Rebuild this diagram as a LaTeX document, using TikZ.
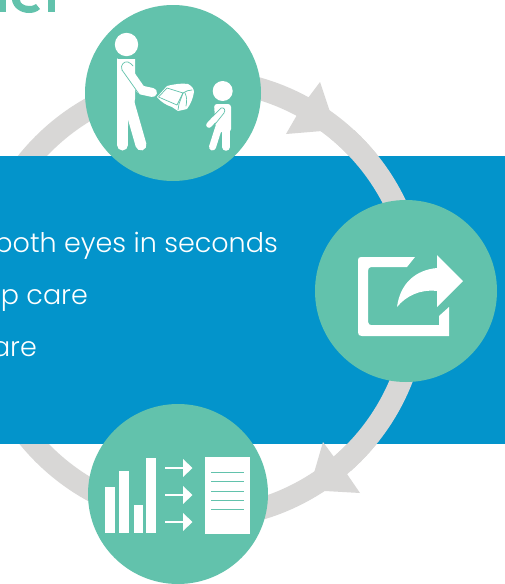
\documentclass[tikz,border=0pt]{standalone}
\usepackage{fontspec}
\setmainfont{Poppins Light}
\definecolor{teal1}{HTML}{62C2AC}
\definecolor{blue1}{HTML}{0394CB}
\definecolor{ring1}{HTML}{D8D7D6}
\tikzset{
  ringshape/.style={circle,draw=ring1,line width=22pt,minimum size=438pt,inner sep=0pt,fill=none},
  disc/.style={circle,fill=teal1,inner sep=0pt},
  bodytext/.style={anchor=base east,text=white,font=\fontsize{27}{30}\selectfont,inner sep=0pt},
  limb/.style={draw=white,line cap=round,line join=round},
  tealline/.style={draw=teal1,line width=1pt},
  hairline/.style={draw=teal1,line width=0.7pt,line cap=round,line join=round},
  head/.style={fill=ring1,draw=none}
}
\begin{document}
\begin{tikzpicture}[x=1pt,y=-1pt]
\useasboundingbox (0,0) rectangle (505,584);
\fill[white] (0,0) rectangle (505,584);
% ring behind band
\node[ringshape] (ring) at (198,299) {};
\fill[blue1] (0,156) rectangle (505,444);
\begin{scope}
\clip (300,130) rectangle (505,470);
\node[ringshape] (ringb) at (198,299) {};
\end{scope}
% arrowheads
\fill[head] (320,82)--(330,112)--(322,131)--(286,134)--(297,115)--(308,98)--cycle;
\fill[head] (323,442)--(334,457)--(347,474)--(360,493)--(325,491)--(314,473)--cycle;
% discs
\node[disc,minimum size=176pt] (d1) at (173,93) {};
\node[disc,minimum size=182pt] (d2) at (406,291) {};
\node[disc,minimum size=180pt] (d3) at (178,494) {};
% title fragment
\fill[teal1] (0,0) rectangle (6,12);
\fill[teal1] (12,0) .. controls (13,8) and (21,13) .. (29,13) .. controls (33,13) and (37,12) .. (40,9) -- (36,4) .. controls (33,6) and (31,6) .. (29,6) .. controls (24,6) and (20,3) .. (20,0) -- cycle;
\fill[teal1] (48,0) rectangle (55,12);
% text
\node[bodytext] (t1) at (278,252) {both eyes in seconds};
\node[bodytext] (t2) at (88,304) {up care};
\node[bodytext] (t3) at (37,356) {care};
% person icon
\fill[white] (126.5,44.5) circle (11.7);
\fill[white,rounded corners=4pt] (117,62) .. controls (117,60) and (119,59) .. (122,59) -- (130,59) .. controls (133,59) and (135,60) .. (135,63) -- (135,103) -- (128,113) -- (128,130) -- (117,130) -- cycle;
\draw[limb,line width=11pt] (122.5,112)--(122.5,145);
\draw[limb,line width=11pt] (129,103)--(141,145);
\draw[limb,line width=9pt] (125,67)--(141,90)--(152.5,92.5);
\draw[hairline] (122,70) .. controls (120,65) and (124,61) .. (128,62) .. controls (131,63) and (132,65) .. (133,66);
\draw[hairline] (122,70)--(139,94);
% device
\fill[white] (157,97) -- (167,86) .. controls (175,84) and (182,83) .. (188,84) .. controls (192,86) and (194,89) .. (194,92) .. controls (193,99) and (190,105) .. (187,109) -- (178,111) -- (172,107) .. controls (166,105) and (161,102) .. (157,97) -- cycle;
\draw[hairline] (158.5,97) -- (167,88) -- (183,93) -- (177,105) -- cycle;
\draw[hairline] (183,93) -- (179,104) -- (178,110);
\draw[hairline] (183,93) .. controls (186,91) and (189,90) .. (192,90);
\draw[hairline] (185,93) .. controls (187,97) and (187,101) .. (186,106);
% child
\fill[white] (222.7,91) circle (10);
\fill[white,rounded corners=3pt] (214,104)--(231,104)--(231,132)--(216,132)--cycle;
\draw[limb,line width=7pt] (218.5,128)--(212.5,147);
\draw[limb,line width=7.5pt] (226,128)--(226,147);
\draw[limb,line width=5.6pt] (221,112)--(209,125);
\draw[hairline] (213,116) -- (221,108) .. controls (224,107) and (226,110) .. (224,113) -- (212,128);
% share icon
\fill[white] (358,260) .. controls (358,258) and (359,257) .. (361,257) -- (415,257) -- (407,267) -- (371,267) .. controls (369,267) and (368,269) .. (368,271) -- (368,322) .. controls (368,324) and (370,325) .. (371,325) -- (439,325) -- (439,316) -- (449,307) -- (449,336) -- (362,336) .. controls (359,336) and (358,335) .. (358,332) -- cycle;
\fill[white] (397,307) .. controls (400,284) and (415,270) .. (437,268) -- (437,255) -- (463,281) -- (437,307) -- (437,291) .. controls (420,289) and (406,296) .. (397,307) -- cycle;
% chart icon
\fill[white] (105,487) rectangle (115,533);
\fill[white] (119,471) rectangle (129,533);
\fill[white] (134,505) rectangle (143,533);
\fill[white] (146,458) rectangle (156,533);
\foreach \yy in {468,495,522}{
  \fill[white] (165,\yy-0.55) rectangle (183,\yy+0.55);
  \fill[white] (183,\yy-9) -- (192.5,\yy) -- (183,\yy+9) -- cycle;
}
\fill[white] (205,457) rectangle (250,534);
\foreach \yy in {472.3,481.7,491,500,509.3}{
  \draw[tealline] (211,\yy)--(244,\yy);
}
\end{tikzpicture}
\end{document}
